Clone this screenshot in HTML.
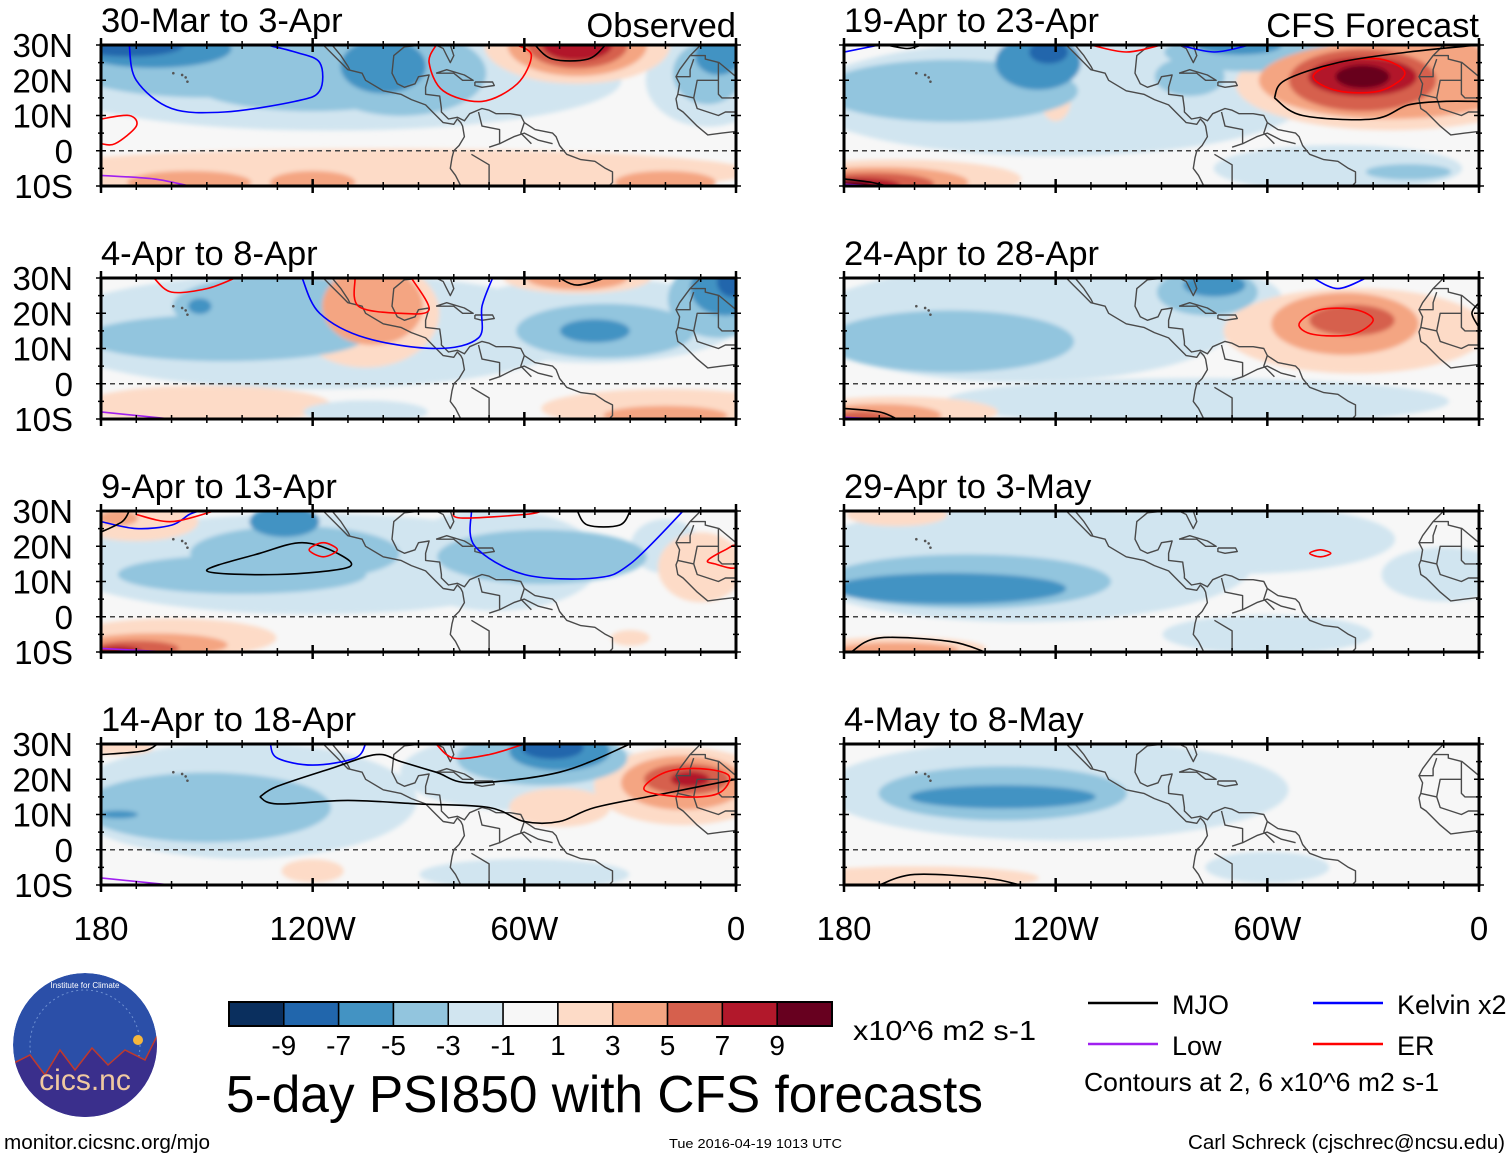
<!DOCTYPE html>
<html><head><meta charset="utf-8"><style>
html,body{margin:0;padding:0;background:#fff;}
svg{display:block;font-family:"Liberation Sans",sans-serif;}
</style></head><body>
<svg id="fig" width="1510" height="1158" viewBox="0 0 1510 1158" xmlns="http://www.w3.org/2000/svg">
<defs>
<filter id="soft" x="-5%" y="-5%" width="110%" height="110%"><feGaussianBlur stdDeviation="2"/></filter>
<clipPath id="logoclip"><circle cx="85" cy="1045" r="72"/></clipPath>
</defs>
<g id="panels"></g>
<g id="footer"></g>
</svg>
<script>
const NS='http://www.w3.org/2000/svg';
const colors=['#0a2f5e','#2166ac','#4393c3','#92c5de','#d1e5f0','#f7f7f7','#fddbc7','#f4a582','#d6604d','#b2182b','#67001f'];
const cbarTicks=['-9','-7','-5','-3','-1','1','3','5','7','9'];
const latTicks=['30N','20N','10N','0','10S'];
const latVals=[30,20,10,0,-10];
const lonTicks=['180','120W','60W','0'];
const lonVals=[-180,-120,-60,0];
const titles=['30-Mar to 3-Apr','4-Apr to 8-Apr','9-Apr to 13-Apr','14-Apr to 18-Apr','19-Apr to 23-Apr','24-Apr to 28-Apr','29-Apr to 3-May','4-May to 8-May'];
// blobs: [lon, lat, radiusLon, radiusLat, level(-5..5)]
const blobs1=[[-115,20,75,13,-1],[-150,25,38,9,-2],[-120,20,32,8,-2],[-95,22,22,11,-2],[-165,29,20,5,-3],[-100,24,11,7,-3],[-172,30,14,3,-4],[-8,20,16,12,-1],[-8,22,9,8,-2],[-5,27,6,5,-3],[-45,30,24,10,1],[-45,30,18,8,2],[-45,30,13,6,3],[-45,30,9,4,4],[-100,-6,95,6,1],[-155,-9,16,3,2],[-120,-9,11,3,2],[-20,-9,13,3,2]];
const blobs2=[[-120,15,70,15,-1],[-145,13,36,6,-2],[-130,22,27,8,-2],[-152,22,3,2,-3],[-105,20,19,14,1],[-103,22,13,10,2],[-40,18,38,11,-1],[-37,15,23,7,-2],[-40,15,9,3,-3],[-5,24,13,10,-2],[-3,27,9,7,-3],[-1,29,4,4,-4],[-45,30,19,4,1],[-45,30,13,3,2],[-150,-6,32,5,1],[-20,-7,32,5,1],[-20,-9,16,2.5,2],[-105,-8,16,3,-1]];
const blobs3=[[-120,15,65,13,-1],[-125,18,27,7,-2],[-140,12,32,5,-2],[-128,27,9,4,-3],[-68,16,27,13,-1],[-55,17,27,7,-2],[-20,20,9,7,-1],[-170,27,16,5,1],[-175,28,5,2,2],[-10,14,11,9,1],[-160,-6,27,5,1],[-165,-8,19,3,2],[-170,-9,11,2,3],[-175,-10,6,1.5,4],[-30,-6,5,2,1]];
const blobs4=[[-140,14,45,15,-1],[-150,12,32,9,-2],[-175,10,5,1,-3],[-60,22,32,10,-1],[-55,26,22,7,-2],[-50,28,13,5,-3],[-52,29,8,3,-4],[-15,18,23,10,1],[-15,19,16,7,2],[-14,20,11,4,3],[-13,20,5,2,4],[-50,12,13,5,1],[-60,-7,27,4,-1],[-120,-6,8,3,1],[-175,29,9,2,1]];
const blobs5=[[-120,15,65,15,-1],[-150,17,33,8,-2],[-125,25,11,7,-3],[-122,28,5,3,-4],[-82,21,9,5,-2],[-65,28,22,5,-2],[-68,30,11,2.5,-3],[-25,19,40,12,1],[-25,20,34,10,2],[-10,22,13,9,2],[-33,20,19,8,3],[-33,21,14,5,4],[-33,21,7,3,5],[-40,-5,32,6,-1],[-20,-6,11,2,-2],[-120,15,4,6,1],[-165,-8,32,5,1],[-170,-9,23,4,2],[-172,-9.5,16,3,3],[-175,-10,10,2,4],[-178,-10,5,1.5,5]];
const blobs6=[[-130,17,55,15,-1],[-150,12,32,8,-2],[-80,24,22,8,-1],[-77,26,13,6,-2],[-75,28,8,3,-3],[-35,15,34,11,1],[-38,17,19,8,2],[-36,18,11,4,3],[-80,-5,65,6,-1],[-165,-8,26,4,1],[-170,-9,16,3,2],[-175,-10,8,2,3]];
const blobs7=[[-130,15,60,15,-1],[-145,10,37,7,-2],[-150,8,30,4,-3],[-70,22,42,9,-1],[-10,12,16,7,-1],[-60,-5,27,5,-1],[-165,29,13,3,1],[-165,-9,23,3,1],[-165,-9.5,16,2,2]];
const blobs8=[[-120,17,60,13,-1],[-135,16,32,7,-2],[-135,15,24,3,-3],[-60,-5,16,4,-1],[-160,-8,32,3,1]];
const blobSets=[blobs1,blobs2,blobs3,blobs4,blobs5,blobs6,blobs7,blobs8];
// contour lines: [type, points]
const lines1=[['blue',[[-172,30],[-170,20],[-160,12],[-145,11],[-125,14],[-118,17],[-118,25],[-125,28],[-133,30]]],['red',[[-180,9],[-172,10],[-170,7],[-176,2],[-180,2]]],['red',[[-85,30],[-87,25],[-83,17],[-72,14],[-62,19],[-58,27],[-62,30]]],['black',[[-57,30],[-52,26],[-42,26],[-37,30]]],['purple',[[-180,-7],[-165,-8],[-155,-10]]]];
const lines2=[['red',[[-165,30],[-160,26],[-150,27],[-142,30]]],['blue',[[-123,30],[-118,20],[-105,13],[-85,10],[-73,13],[-72,22],[-69,30]]],['red',[[-108,30],[-107,22],[-95,20],[-87,21],[-92,30]]],['black',[[-50,30],[-45,28],[-37,30]]],['purple',[[-180,-8],[-160,-10]]]];
const lines3=[['black',[[-150,13],[-135,18],[-123,21],[-113,18],[-110,14],[-130,12],[-150,13]]],['red',[[-121,19],[-117,21],[-113,19],[-117,17],[-121,19]]],['blue',[[-180,27],[-170,25],[-160,26],[-155,29],[-152,30]]],['black',[[-180,24],[-174,27],[-172,30]]],['red',[[-170,29],[-160,27],[-148,30]]],['blue',[[-75,30],[-74,20],[-60,12],[-40,11],[-30,15],[-15,30]]],['black',[[-45,30],[-42,26],[-33,26],[-30,30]]],['red',[[-8,16],[-3,19],[0,20],[0,14],[-6,15],[-8,16]]],['red',[[-80,30],[-78,28],[-60,29],[-55,30]]],['purple',[[-180,-9],[-160,-10]]]];
const lines4=[['blue',[[-132,30],[-130,26],[-120,24],[-108,26],[-105,30]]],['black',[[-135,15],[-130,18],[-115,23],[-102,27],[-95,25],[-85,22],[-75,19],[-50,22],[-30,30]]],['black',[[-135,15],[-130,13],[-110,14],[-90,13],[-70,12],[-60,8],[-50,8],[-40,12],[-20,16],[0,20]]],['red',[[-26,17],[-20,22],[-10,23],[-2,21],[-5,16],[-15,15],[-26,17]]],['red',[[-85,30],[-80,26],[-70,27],[-60,30]]],['black',[[-180,27],[-168,28],[-164,30]]],['purple',[[-180,-8],[-160,-10]]]];
const lines5=[['red',[[-47,21],[-40,25],[-28,26],[-21,22],[-28,17],[-40,17],[-47,21]]],['black',[[-58,15],[-55,20],[-40,25],[-20,28],[0,30]]],['black',[[-58,15],[-50,10],[-30,9],[-20,13],[-10,14],[0,14]]],['blue',[[-180,28],[-170,30]]],['black',[[-168,30],[-162,29],[-158,30]]],['red',[[-110,30],[-100,28],[-90,30]]],['blue',[[-85,30],[-75,28],[-65,30]]],['black',[[-180,-8],[-172,-9],[-168,-10]]],['purple',[[-180,-9.5],[-170,-10]]]];
const lines6=[['red',[[-51,17],[-45,21],[-35,21],[-30,18],[-36,14],[-47,14],[-51,17]]],['blue',[[-47,30],[-40,27],[-32,30]]],['blue',[[-126,30],[-115,30]]],['black',[[-180,-7],[-170,-8],[-165,-10]]],['black',[[0,23],[-2,20],[0,16]]],['purple',[[-180,-9.5],[-170,-10]]]];
const lines7=[['red',[[-48,18],[-45,19],[-42,18],[-45,17],[-48,18]]],['black',[[-178,-10],[-170,-6],[-150,-7],[-140,-10]]]];
const lines8=[['black',[[-170,-10],[-160,-7],[-140,-8],[-130,-10]]]];
const lineSets=[lines1,lines2,lines3,lines4,lines5,lines6,lines7,lines8];
const strokeCol={black:'#000',blue:'#0000ff',red:'#ff0000',purple:'#a020f0'};
// simplified coastlines (lon,lat)
const coastW=[[-117,30],[-115,28],[-112,25],[-110,23],[-106,22],[-105,20],[-100,17],[-95,16],[-92,14.5],[-88,13],[-86,11],[-85,10],[-83,8],[-80,7.5],[-79,9],[-78,8],[-77.5,7],[-77,4],[-78.5,1.5],[-80,0],[-80.5,-2],[-81,-5],[-79.5,-7],[-78.5,-9],[-78,-10]];
const baja=[[-114.5,30],[-112,27],[-110,24],[-109.5,23]];
const coastE=[[-81,30],[-80,27],[-81,25],[-82,27],[-83,29],[-85,30],[-89,30],[-94,29.5],[-97,27],[-97.5,22],[-96,19],[-94,18],[-91,19],[-90,21],[-87,21.5],[-88,18],[-88,16],[-84,15.5],[-83.5,12],[-83.5,11],[-81.5,9],[-79,9.5],[-77,8.5],[-75.5,10.5],[-72,12],[-70,11.5],[-68,10.5],[-64,10.5],[-61,10],[-60,8],[-57,6],[-52,5],[-51,4],[-50,1.5],[-48,-1],[-44,-2.5],[-40,-3],[-37,-5],[-35,-6],[-35,-9],[-36,-10]];
const cuba=[[-85,22],[-82,23],[-77,21.5],[-74.5,20],[-77.5,20],[-80,22],[-85,22]];
const hisp=[[-74,19.5],[-69,19.5],[-68.5,18.5],[-72,18],[-74,18.5],[-74,19.5]];
const africa=[[-10,30],[-13,27],[-16,23],[-17,21],[-16,19],[-16.5,16],[-17,14.7],[-16.5,12],[-15,11],[-13,9],[-11,7],[-8,4.5],[-4,5],[0,5.5]];
const africaBorders=[[[-13,27],[-8.7,27],[-8.7,26],[-4.8,25],[0,21]],[[-17,21],[-13,21],[-13,23],[-12,26]],[[-16.5,16],[-12,15],[-11,12],[-8,11],[-5,10],[-3,11],[0,11]],[[-5,25],[-5,16],[-4,15],[0,15]],[[-12,15],[-11,20],[-5,20]]];
const southBorders=[[[-75,-1],[-70,-4],[-70,-10]],[[-67,2],[-63,4],[-60,5],[-56,3],[-52,2]],[[-73,11],[-72,7],[-67,6],[-67,2],[-70,1]],[[-60,8],[-61,5],[-58,2]]];

function mk(tag,attrs,parent){const e=document.createElementNS(NS,tag);for(const k in attrs)e.setAttribute(k,attrs[k]);if(parent)parent.appendChild(e);return e;}
function smoothPath(P){
  if(P.length<3)return 'M'+P.map(p=>p.join(',')).join(' L');
  const closed=Math.abs(P[0][0]-P[P.length-1][0])<0.01&&Math.abs(P[0][1]-P[P.length-1][1])<0.01;
  let d='M'+P[0][0].toFixed(1)+','+P[0][1].toFixed(1);
  const n=P.length;
  const get=i=>{if(closed){return P[((i%(n-1))+(n-1))%(n-1)];}return P[Math.max(0,Math.min(n-1,i))];};
  for(let i=0;i<n-1;i++){
    const p0=get(i-1),p1=P[i],p2=P[i+1],p3=get(i+2);
    const c1=[p1[0]+(p2[0]-p0[0])/6,p1[1]+(p2[1]-p0[1])/6];
    const c2=[p2[0]-(p3[0]-p1[0])/6,p2[1]-(p3[1]-p1[1])/6];
    d+=' C'+c1.map(v=>v.toFixed(1)).join(',')+' '+c2.map(v=>v.toFixed(1)).join(',')+' '+p2.map(v=>v.toFixed(1)).join(',');
  }
  return d;
}
const PW=635,PH=141;
const panelX=[101,844],panelY=[45,278,511,744];
const root=document.getElementById('panels');

function drawPanel(i){
  const col=i<4?0:1,row=i%4;
  const x0=panelX[col],y0=panelY[row];
  const sx=lon=>x0+(lon+180)/180*PW;
  const sy=lat=>y0+(30-lat)/40*PH;
  const g=mk('g',{},root);
  
  
  const cid='clip'+i;
  const cp=mk('clipPath',{id:cid},g);mk('rect',{x:x0,y:y0,width:PW,height:PH},cp);
  const inner=mk('g',{'clip-path':'url(#'+cid+')'},g);
  mk('rect',{x:x0,y:y0,width:PW,height:PH,fill:colors[5]},inner);
  const fg=mk('g',{filter:'url(#soft)'},inner);
  
  
  const bl=blobSets[i].slice().sort((a,b)=>Math.abs(a[4])-Math.abs(b[4]));
  bl.forEach(b=>{
    const e=mk('ellipse',{cx:sx(b[0]),cy:sy(b[1]),rx:b[2]/180*PW*1.1,ry:b[3]/40*PH*1.1,fill:colors[5+b[4]]},fg);
    
    
  });
  mk('line',{x1:x0,x2:x0+PW,y1:sy(0),y2:sy(0),stroke:'#444','stroke-width':1.5,'stroke-dasharray':'5,4'},inner);
  const cg=mk('g',{fill:'none',stroke:'#4a4a4a','stroke-width':1.4,'stroke-linejoin':'round'},inner);
  
  
  const pl=pts=>pts.map(p=>sx(p[0]).toFixed(1)+','+sy(p[1]).toFixed(1)).join(' ');
  [coastW,baja,coastE,cuba,hisp,africa].concat(africaBorders,southBorders).forEach(p=>mk('polyline',{points:pl(p)},cg));
  [[-157,21.5],[-156,20.8],[-155.5,19.6],[-159.5,22]].forEach(p=>mk('circle',{cx:sx(p[0]),cy:sy(p[1]),r:1.3,fill:'#555',stroke:'none'},cg));
  lineSets[i].forEach(l=>{
    const pts=l[1].map(p=>[sx(p[0]),sy(p[1])]);
    const e=mk('path',{d:smoothPath(pts),fill:'none',stroke:strokeCol[l[0]],'stroke-width':1.6,'stroke-linejoin':'round'},inner);
    
    
  });
  const fr=mk('rect',{x:x0,y:y0,width:PW,height:PH,fill:'none',stroke:'#000','stroke-width':3},g);
  
  
  for(let lon=-180;lon<=0;lon+=10){
    const major=(lon%60===0);const len=major?7:4;
    mk('line',{x1:sx(lon),x2:sx(lon),y1:y0-len,y2:y0+len,stroke:'#000','stroke-width':major?2.5:1.5},g);
    mk('line',{x1:sx(lon),x2:sx(lon),y1:y0+PH-len,y2:y0+PH+len,stroke:'#000','stroke-width':major?2.5:1.5},g);
  }
  for(let lat=-10;lat<=30;lat+=5){
    const major=(lat%10===0);const len=major?5:3;
    mk('line',{x1:x0-len,x2:x0+len,y1:sy(lat),y2:sy(lat),stroke:'#000','stroke-width':1.5},g);
    mk('line',{x1:x0+PW-len,x2:x0+PW+len,y1:sy(lat),y2:sy(lat),stroke:'#000','stroke-width':1.5},g);
  }
  const t=mk('text',{x:x0,y:y0-13,'font-size':34.5},g);t.textContent=titles[i];
  
  
  if(col===0){
    latVals.forEach((lv,k)=>{
      const tt=mk('text',{x:73,y:sy(lv)+12,'font-size':33,'text-anchor':'end'},g);tt.textContent=latTicks[k];
      
      
    });
  }
  if(row===3){
    lonVals.forEach((lv,k)=>{
      const tt=mk('text',{x:sx(lv),y:940,'font-size':33,'text-anchor':'middle'},g);tt.textContent=lonTicks[k];
      
      
    });
  }
}
for(let i=0;i<8;i++)drawPanel(i);
const hdr=(txt,x,nm)=>{const t=mk('text',{x:x,y:37,'font-size':34.5,'text-anchor':'end'},root);t.textContent=txt;};
hdr('Observed',736,'observed-label');
hdr('CFS Forecast',1479,'cfs-forecast-label');

const f=document.getElementById('footer');
const lg=mk('g',{'clip-path':'url(#logoclip)'},f);


mk('circle',{cx:85,cy:1045,r:72,fill:'#2b4fa8'},lg);
mk('circle',{cx:85,cy:1045,r:55,fill:'none',stroke:'#6d8fd0','stroke-width':1,'stroke-dasharray':'2,3'},lg);
mk('polygon',{points:'10,1065 30,1055 45,1075 60,1050 75,1070 92,1048 108,1065 125,1050 145,1060 160,1030 160,1120 10,1120',fill:'#3a2f8c',stroke:'#c0392b','stroke-width':1.5},lg);
mk('circle',{cx:138,cy:1040,r:5,fill:'#f6b73c'},lg);
let lt=mk('text',{x:85,y:1090,'font-size':30,'text-anchor':'middle',fill:'#f0c9a0'},lg);lt.textContent='cics.nc';
lt=mk('text',{x:85,y:988,'font-size':8,'text-anchor':'middle',fill:'#fff'},lg);lt.textContent='Institute for Climate';

const cb=mk('g',{},f);


const cbx=229,cbw=603,cby=1002,cbh=24,bw=cbw/colors.length;
colors.forEach((c,k)=>{
  const r=mk('rect',{x:cbx+k*bw,y:cby,width:bw,height:cbh,fill:c,stroke:'#000','stroke-width':1.5},cb);
  
  
});
mk('rect',{x:cbx,y:cby,width:cbw,height:cbh,fill:'none',stroke:'#000','stroke-width':2},cb);
cbarTicks.forEach((s,k)=>{const t=mk('text',{x:cbx+(k+1)*bw,y:1055,'font-size':28,'text-anchor':'middle'},cb);t.textContent=s;});
let tx=mk('text',{x:853,y:1040,'font-size':28,textLength:183,lengthAdjust:'spacingAndGlyphs'},f);tx.textContent='x10^6 m2 s-1';

tx=mk('text',{x:226,y:1112,'font-size':52,textLength:757,lengthAdjust:'spacingAndGlyphs'},f);tx.textContent='5-day PSI850 with CFS forecasts';


const legendItems=[['MJO','#000',1088,1003],['Kelvin x2','#0000ff',1313,1003],['Low','#a020f0',1088,1044],['ER','#ff0000',1313,1044]];
legendItems.forEach(it=>{
  const g=mk('g',{},f);
  
  
  mk('line',{x1:it[2],x2:it[2]+70,y1:it[3],y2:it[3],stroke:it[1],'stroke-width':2.5},g);
  const t=mk('text',{x:it[2]+84,y:it[3]+11,'font-size':27},g);t.textContent=it[0];
});
tx=mk('text',{x:1084,y:1091,'font-size':26,textLength:355,lengthAdjust:'spacingAndGlyphs'},f);tx.textContent='Contours at 2, 6 x10^6 m2 s-1';

tx=mk('text',{x:4,y:1149,'font-size':20,textLength:206,lengthAdjust:'spacingAndGlyphs'},f);tx.textContent='monitor.cicsnc.org/mjo';

tx=mk('text',{x:669,y:1148,'font-size':13,textLength:173,lengthAdjust:'spacingAndGlyphs'},f);tx.textContent='Tue 2016-04-19 1013 UTC';

tx=mk('text',{x:1188,y:1149,'font-size':20,textLength:317,lengthAdjust:'spacingAndGlyphs'},f);tx.textContent='Carl Schreck (cjschrec@ncsu.edu)';

</script>
</body></html>
